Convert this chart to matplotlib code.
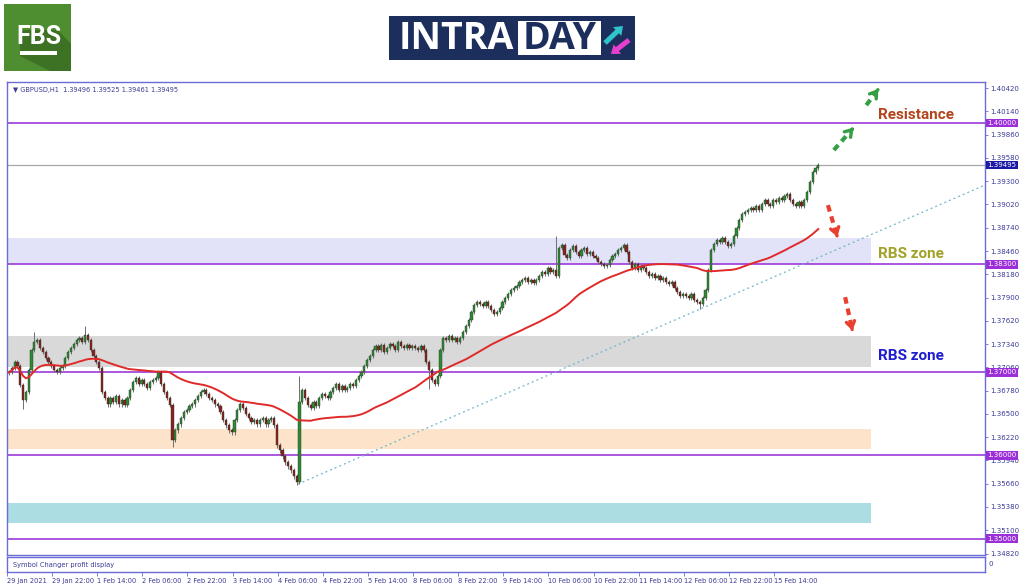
import matplotlib
matplotlib.use("Agg")
import matplotlib.pyplot as plt
import matplotlib.transforms as mtransforms
from matplotlib.patches import Rectangle, Polygon, FancyArrow
import pandas as pd

# ---- data (GBPUSD H1) ----
first_open = 1.36990
closes = [
    1.37000, 1.37048, 1.37120, 1.37072, 1.36843, 1.36663, 1.36759, 1.37024, 1.37265, 1.37361, 1.37386, 1.37289, 1.37241, 1.37169, 1.37120, 1.37072,
    1.37024, 1.37000, 1.37048, 1.37072, 1.37169, 1.37241, 1.37289, 1.37337, 1.37386, 1.37410, 1.37361, 1.37446, 1.37386, 1.37265, 1.37193, 1.37120,
    1.37048, 1.36759, 1.36687, 1.36614, 1.36687, 1.36639, 1.36711, 1.36614, 1.36663, 1.36602, 1.36687, 1.36783, 1.36880, 1.36928, 1.36855, 1.36904,
    1.36855, 1.36807, 1.36880, 1.36904, 1.36928, 1.37000, 1.36855, 1.36759, 1.36687, 1.36602, 1.36181, 1.36301, 1.36373, 1.36446, 1.36518, 1.36542,
    1.36590, 1.36614, 1.36663, 1.36711, 1.36759, 1.36783, 1.36735, 1.36687, 1.36663, 1.36614, 1.36590, 1.36518, 1.36422, 1.36361, 1.36301, 1.36277,
    1.36422, 1.36542, 1.36614, 1.36566, 1.36494, 1.36446, 1.36398, 1.36422, 1.36373, 1.36422, 1.36446, 1.36373, 1.36422, 1.36446, 1.36361, 1.36120,
    1.36060, 1.35988, 1.35916, 1.35867, 1.35819, 1.35747, 1.35680, 1.36639, 1.36783, 1.36687, 1.36602, 1.36566, 1.36639, 1.36590, 1.36687, 1.36735,
    1.36711, 1.36687, 1.36759, 1.36807, 1.36855, 1.36783, 1.36831, 1.36783, 1.36807, 1.36855, 1.36831, 1.36904, 1.36952, 1.37000, 1.37072, 1.37145,
    1.37193, 1.37265, 1.37313, 1.37265, 1.37325, 1.37241, 1.37289, 1.37337, 1.37313, 1.37265, 1.37361, 1.37313, 1.37289, 1.37325, 1.37289, 1.37313,
    1.37289, 1.37265, 1.37313, 1.37265, 1.37120, 1.37024, 1.36904, 1.36855, 1.36952, 1.37265, 1.37410, 1.37386, 1.37434, 1.37386, 1.37410, 1.37361,
    1.37410, 1.37482, 1.37554, 1.37627, 1.37723, 1.37807, 1.37843, 1.37819, 1.37795, 1.37843, 1.37795, 1.37747, 1.37699, 1.37723, 1.37771, 1.37843,
    1.37892, 1.37940, 1.37988, 1.38012, 1.38036, 1.38084, 1.38108, 1.38133, 1.38084, 1.38108, 1.38072, 1.38108, 1.38157, 1.38205, 1.38181, 1.38253,
    1.38205, 1.38229, 1.38157, 1.38494, 1.38530, 1.38410, 1.38373, 1.38470, 1.38518, 1.38446, 1.38398, 1.38470, 1.38494, 1.38422, 1.38446, 1.38398,
    1.38373, 1.38325, 1.38301, 1.38277, 1.38289, 1.38349, 1.38398, 1.38422, 1.38470, 1.38494, 1.38530, 1.38446, 1.38325, 1.38253, 1.38301, 1.38229,
    1.38277, 1.38253, 1.38205, 1.38157, 1.38181, 1.38133, 1.38157, 1.38108, 1.38133, 1.38084, 1.38060, 1.38084, 1.38012, 1.37964, 1.37916, 1.37940,
    1.37916, 1.37892, 1.37940, 1.37867, 1.37843, 1.37819, 1.37892, 1.37988, 1.38229, 1.38470, 1.38542, 1.38590, 1.38566, 1.38614, 1.38566, 1.38518,
    1.38542, 1.38639, 1.38735, 1.38831, 1.38904, 1.38928, 1.38952, 1.38976, 1.38952, 1.39000, 1.38952, 1.39024, 1.39072, 1.39024, 1.39000, 1.39072,
    1.39048, 1.39096, 1.39072, 1.39120, 1.39145, 1.39072, 1.39024, 1.39000, 1.39048, 1.39000, 1.39072, 1.39169, 1.39289, 1.39410, 1.39458, 1.39495,
]
wick = 0.00025
extra_high = {9: 1.37480, 27: 1.37560, 103: 1.36960, 194: 1.38640}
extra_low = {5: 1.36560, 58: 1.36100, 102: 1.35640, 149: 1.36800, 245: 1.37760}
ma_period = 50

date_labels = ["29 Jan 2021", "29 Jan 22:00", "1 Feb 14:00", "2 Feb 06:00", "2 Feb 22:00",
               "3 Feb 14:00", "4 Feb 06:00", "4 Feb 22:00", "5 Feb 14:00", "8 Feb 06:00",
               "8 Feb 22:00", "9 Feb 14:00", "10 Feb 06:00", "10 Feb 22:00", "11 Feb 14:00",
               "12 Feb 06:00", "12 Feb 22:00", "15 Feb 14:00"]
bars_per_label = 16

price_ticks = [1.40420, 1.40140, 1.39860, 1.39580, 1.39300, 1.39020, 1.38740, 1.38460,
               1.38180, 1.37900, 1.37620, 1.37340, 1.37060, 1.36780, 1.36500, 1.36220,
               1.35940, 1.35660, 1.35380, 1.35100, 1.34820]
levels = [1.40000, 1.38300, 1.37000, 1.36000, 1.35000]
last_price = 1.39495

zone_lo = [1.38300, 1.37060, 1.36072, 1.35193]
zone_hi = [1.38614, 1.37434, 1.36313, 1.35422]
zone_colors = ["#e2e2f8", "#d9d9d9", "#fde3c9", "#abdde3"]
zone_end = 305.5

trend_x = [102.5, 346]
trend_y = [1.35655, 1.39253]

# ---- layout ----
W, H = 1024, 587
fig = plt.figure(figsize=(W / 100, H / 100), dpi=100)
fig.patch.set_facecolor("white")

frame = "#6b6bd8"
navy_txt = "#3a3a96"

def px_axes(x0, y0, x1, y1):
    return fig.add_axes([x0 / W, 1 - y1 / H, (x1 - x0) / W, (y1 - y0) / H])

ax = px_axes(7, 82, 985, 555)
ax.set_xlim(-0.7, 346.1)
ax.set_ylim(1.34802, 1.40494)
for s in ax.spines.values():
    s.set_color(frame)
    s.set_linewidth(1.0)

# zones
for lo, hi, c in zip(zone_lo, zone_hi, zone_colors):
    ax.add_patch(Rectangle((-0.7, lo), zone_end + 0.7, hi - lo, fc=c, ec="none", zorder=0))

# levels
for lv in levels:
    ax.axhline(lv, color="#9d3ad8", lw=1.2, zorder=1)
ax.axhline(last_price, color="#a8a8a8", lw=0.9, zorder=1)

# trend line
ax.plot(trend_x, trend_y, color="#6ab4cc", lw=0.9, ls=(0, (1.5, 2.5)), zorder=2)

# candles
opens = [first_open] + closes[:-1]
xs = list(range(len(closes)))
for i, (o, c) in enumerate(zip(opens, closes)):
    hi = extra_high.get(i, max(o, c) + wick)
    lo = extra_low.get(i, min(o, c) - wick)
    ax.vlines(i, lo, hi, color="#6e6e6e", lw=0.7, zorder=3)
    col = "#2f8a34" if c >= o else "#8c1f1f"
    ax.bar(i, c - o if abs(c - o) > 0.00003 else 0.00003, bottom=o, width=0.78,
           color=col, edgecolor="#283828", linewidth=0.3, zorder=4)

ma = pd.Series(closes).rolling(ma_period, min_periods=1).mean()
ax.plot(xs, ma, color="#e02a2a", lw=1.4, zorder=5)

# right axis
ax.yaxis.tick_right()
ax.set_yticks(price_ticks)
ax.set_yticklabels([f"{v:.5f}" for v in price_ticks])
ax.tick_params(axis="y", labelsize=5, colors=frame, length=2.5, width=0.6, pad=1.5,
               labelcolor=navy_txt)
ax.set_xticks([])

tr = mtransforms.blended_transform_factory(ax.transAxes, ax.transData)
for lv in levels:
    ax.text(1.0025, lv, f"{lv:.5f}", transform=tr, fontsize=5, color="white",
            va="center", ha="left",
            bbox=dict(boxstyle="square,pad=0.18", fc="#9b30d9", ec="none"), zorder=10)
ax.text(1.0025, last_price, f"{last_price:.5f}", transform=tr, fontsize=5, color="white",
        va="center", ha="left",
        bbox=dict(boxstyle="square,pad=0.18", fc="#1a1aa6", ec="none"), zorder=10)

ax.text(0.006, 0.99, "\u25bc GBPUSD,H1  1.39496 1.39525 1.39461 1.39495", transform=ax.transAxes,
        fontsize=4.8, color=navy_txt, va="top", ha="left")

# annotations
ax.text(308.2, 1.40096, "Resistance", fontsize=11, fontweight="bold", family="Roboto",
        color="#b3441c", va="center", ha="left", zorder=8)
ax.text(308.2, 1.38422, "RBS zone", fontsize=11, fontweight="bold", family="Roboto",
        color="#a2a229", va="center", ha="left", zorder=8)
ax.text(308.2, 1.37193, "RBS zone", fontsize=11, fontweight="bold", family="Roboto",
        color="#1e1ed0", va="center", ha="left", zorder=8)

def dashed_arrow(x0, y0, x1, y1, color):
    fx = x0 + (x1 - x0) * 0.82
    fy = y0 + (y1 - y0) * 0.82
    ax.plot([x0, fx], [y0, fy], color=color, lw=3, ls=(0, (1.6, 1.2)),
            solid_capstyle="butt", zorder=8)
    ax.annotate("", xy=(x1, y1), xytext=(fx, fy),
                arrowprops=dict(arrowstyle="->,head_length=0.45,head_width=0.3",
                                color=color, lw=2.4), zorder=8)

dashed_arrow(292.5, 1.39675, 299.5, 1.39945, "#35a043")
dashed_arrow(304.0, 1.40215, 308.3, 1.40410, "#35a043")
dashed_arrow(290.4, 1.39012, 294.0, 1.38600, "#e8402f")
dashed_arrow(296.5, 1.37905, 299.3, 1.37470, "#e8402f")

# indicator panel + time axis
ax2 = px_axes(7, 557, 985, 572)
ax2.set_xlim(ax.get_xlim())
ax2.set_ylim(0, 1)
for s in ax2.spines.values():
    s.set_color(frame)
    s.set_linewidth(1.0)
ax2.set_yticks([])
ax2.set_xticks([k * bars_per_label - 0.7 for k in range(len(date_labels))])
ax2.set_xticklabels(date_labels, ha="left", fontsize=4.8, color=navy_txt)
ax2.tick_params(axis="x", colors=frame, length=3, width=0.6, pad=1.5, labelcolor=navy_txt)
ax2.text(0.006, 0.5, "Symbol Changer profit display", transform=ax2.transAxes,
         fontsize=4.8, color=navy_txt, va="center", ha="left")
ax2.text(1.004, 0.5, "0", transform=ax2.transAxes, fontsize=5, color=navy_txt,
         va="center", ha="left")

# ---- FBS logo ----
lg = px_axes(4, 4, 71, 71)
lg.set_xlim(0, 67)
lg.set_ylim(67, 0)
lg.axis("off")
lg.add_patch(Rectangle((0, 0), 67, 67, fc="#4f8d31", ec="none"))
lg.add_patch(Polygon([(16, 26), (54, 26), (67, 40), (67, 67), (46, 67), (16, 52)],
                     fc="#3d7224", ec="none"))
lg.text(35, 33, "FBS", fontsize=18, fontweight="bold", family="Roboto", color="white",
        ha="center", va="center")
lg.add_patch(Rectangle((16, 47), 37, 3.5, fc="white", ec="none"))

# ---- INTRADAY logo ----
il = px_axes(389, 16, 635, 60)
il.set_xlim(389, 635)
il.set_ylim(60, 16)
il.axis("off")
il.add_patch(Rectangle((389, 16), 246, 44, fc="#1c2f5c", ec="none"))
il.text(456, 39, "INTRA", fontsize=27, fontweight="bold", family="Open Sans", color="white",
        ha="center", va="center")
il.add_patch(Rectangle((518, 21), 83, 34, fc="white", ec="none"))
il.text(559.5, 39, "DAY", fontsize=27, fontweight="bold", family="Open Sans", color="#1c2f5c",
        ha="center", va="center")
il.add_patch(FancyArrow(605, 43, 18, -17, width=5, head_width=12, head_length=8,
                        length_includes_head=True, fc="#2fc3cb", ec="none"))
il.add_patch(FancyArrow(629, 40, -18, 14, width=5, head_width=12, head_length=8,
                        length_includes_head=True, fc="#e640cf", ec="none"))

fig.savefig("out.png", dpi=100)
